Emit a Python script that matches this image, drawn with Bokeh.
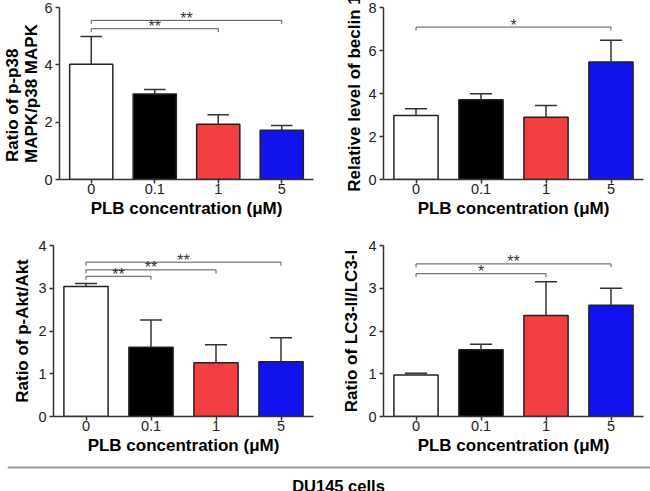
from bokeh.plotting import figure
from bokeh.layouts import column, row
from bokeh.models import FixedTicker, Span, Label
from bokeh.core.properties import value
from bokeh.embed import file_html
from bokeh.resources import INLINE

# ---------------- data ----------------
doses = ["0", "0.1", "1", "5"]
bar_colors = ["white", "black", "#F43F42", "#1212EE"]

p38_mean = [4.02, 2.98, 1.93, 1.72]
p38_err = [0.97, 0.16, 0.33, 0.16]
p38_sig_from = [0, 0]
p38_sig_to = [2, 3]
p38_sig_y = [5.26, 5.55]
p38_sig_txt = ["**", "**"]

beclin_mean = [2.98, 3.71, 2.90, 5.47]
beclin_err = [0.31, 0.28, 0.54, 1.01]
beclin_sig_from = [0]
beclin_sig_to = [3]
beclin_sig_y = [7.09]
beclin_sig_txt = ["*"]

akt_mean = [3.04, 1.62, 1.26, 1.28]
akt_err = [0.07, 0.64, 0.42, 0.56]
akt_sig_from = [0, 0, 0]
akt_sig_to = [1, 2, 3]
akt_sig_y = [3.28, 3.43, 3.61]
akt_sig_txt = ["**", "**", "**"]

lc3_mean = [0.97, 1.56, 2.36, 2.60]
lc3_err = [0.04, 0.13, 0.79, 0.40]
lc3_sig_from = [0, 0]
lc3_sig_to = [2, 3]
lc3_sig_y = [3.34, 3.57]
lc3_sig_txt = ["*", "**"]

x_title = "PLB concentration (\u03bcM)"
FONT = "Liberation Sans"


def panel(mean, err, ymax, ystep, ylabel, sfrom, sto, sy, stxt,
          width, height, left, right, top, bottom, lab_standoff, drop):
    p = figure(width=width, height=height, x_range=(-0.5, 3.5), y_range=(0, ymax),
               output_backend="svg", toolbar_location=None,
               min_border_left=left, min_border_right=right,
               min_border_top=top, min_border_bottom=bottom)
    p.outline_line_color = None
    p.grid.grid_line_color = None
    p.background_fill_color = "white"
    p.border_fill_color = "white"

    idx = list(range(len(doses)))
    p.vbar(x=idx, top=mean, width=0.68, fill_color=bar_colors,
           line_color="#222222", line_width=1.5)
    tops = [m + e for m, e in zip(mean, err)]
    p.segment(x0=idx, y0=mean, x1=idx, y1=tops, line_color="#333333", line_width=1.5)
    cap = 0.17
    p.segment(x0=[i - cap for i in idx], y0=tops, x1=[i + cap for i in idx], y1=tops,
              line_color="#333333", line_width=1.5)

    # significance brackets
    p.segment(x0=sfrom, y0=sy, x1=sto, y1=sy, line_color="#555555", line_width=1)
    p.segment(x0=sfrom, y0=sy, x1=sfrom, y1=[v - drop for v in sy],
              line_color="#555555", line_width=1)
    p.segment(x0=sto, y0=sy, x1=sto, y1=[v - drop for v in sy],
              line_color="#555555", line_width=1)
    p.text(x=[(a + b) / 2 for a, b in zip(sfrom, sto)], y=sy, text=stxt,
           text_align="center", text_baseline="alphabetic",
           text_font=value(FONT), text_font_size="16px", text_color="#333333",
           y_offset=-2)

    # axes
    p.xaxis.ticker = FixedTicker(ticks=idx)
    p.xaxis.major_label_overrides = {i: d for i, d in zip(idx, doses)}
    p.yaxis.ticker = FixedTicker(ticks=[ystep * k for k in range(int(round(ymax / ystep)) + 1)])
    for ax in (p.xaxis[0], p.yaxis[0]):
        ax.axis_line_color = "#333333"
        ax.axis_line_width = 1.5
        ax.major_tick_line_color = "#333333"
        ax.major_tick_line_width = 1.5
        ax.major_tick_out = 4
        ax.major_tick_in = 0
        ax.minor_tick_line_color = None
        ax.major_label_text_font = FONT
        ax.major_label_text_font_size = "14.5px"
        ax.major_label_text_color = "#222222"
        ax.axis_label_text_font = FONT
        ax.axis_label_text_font_style = "bold"
        ax.axis_label_text_font_size = "17px"
        ax.axis_label_text_color = "black"
        ax.axis_label_text_line_height = 1.0
    p.xaxis.major_label_standoff = 0
    p.xaxis.axis_label_standoff = 2
    p.yaxis.major_label_standoff = 3
    p.yaxis.axis_label_standoff = lab_standoff
    p.xaxis.axis_label = x_title
    p.yaxis.axis_label = ylabel
    return p


p1 = panel(p38_mean, p38_err, 6, 2,
           "Ratio of p-p38\u00a0\u00a0\u00a0\u00a0\u00a0\nMAPK/p38 MAPK",
           p38_sig_from, p38_sig_to, p38_sig_y, p38_sig_txt,
           325, 225, 53, 12, 7, 46, 0, 0.12)
p2 = panel(beclin_mean, beclin_err, 8, 2, "Relative level of beclin 1",
           beclin_sig_from, beclin_sig_to, beclin_sig_y, beclin_sig_txt,
           325, 225, 58, 7, 7, 46, 1, 0.16)
p3 = panel(akt_mean, akt_err, 4, 1, "Ratio of p-Akt/Akt",
           akt_sig_from, akt_sig_to, akt_sig_y, akt_sig_txt,
           325, 237, 53, 12, 20, 46, 3, 0.08)
p4 = panel(lc3_mean, lc3_err, 4, 1, "Ratio of LC3-II/LC3-I",
           lc3_sig_from, lc3_sig_to, lc3_sig_y, lc3_sig_txt,
           325, 237, 58, 7, 20, 46, 4, 0.08)

foot = figure(width=650, height=29, x_range=(0, 1), y_range=(0, 29),
              output_backend="svg", toolbar_location=None,
              min_border_left=7, min_border_right=0, min_border_top=0, min_border_bottom=0)
foot.axis.visible = False
foot.grid.grid_line_color = None
foot.outline_line_color = None
foot.add_layout(Span(location=24, dimension="width", line_color="#9a9a9a", line_width=2))
foot.add_layout(Label(x=331, y=6, x_units="screen", y_units="screen", text="DU145 cells",
                      text_align="center", text_baseline="middle",
                      text_font=FONT, text_font_style="bold", text_font_size="16.5px",
                      text_color="black"))

layout = column(row(p1, p2), row(p3, p4), foot)

open("out.html", "w").write(file_html(layout, INLINE))
